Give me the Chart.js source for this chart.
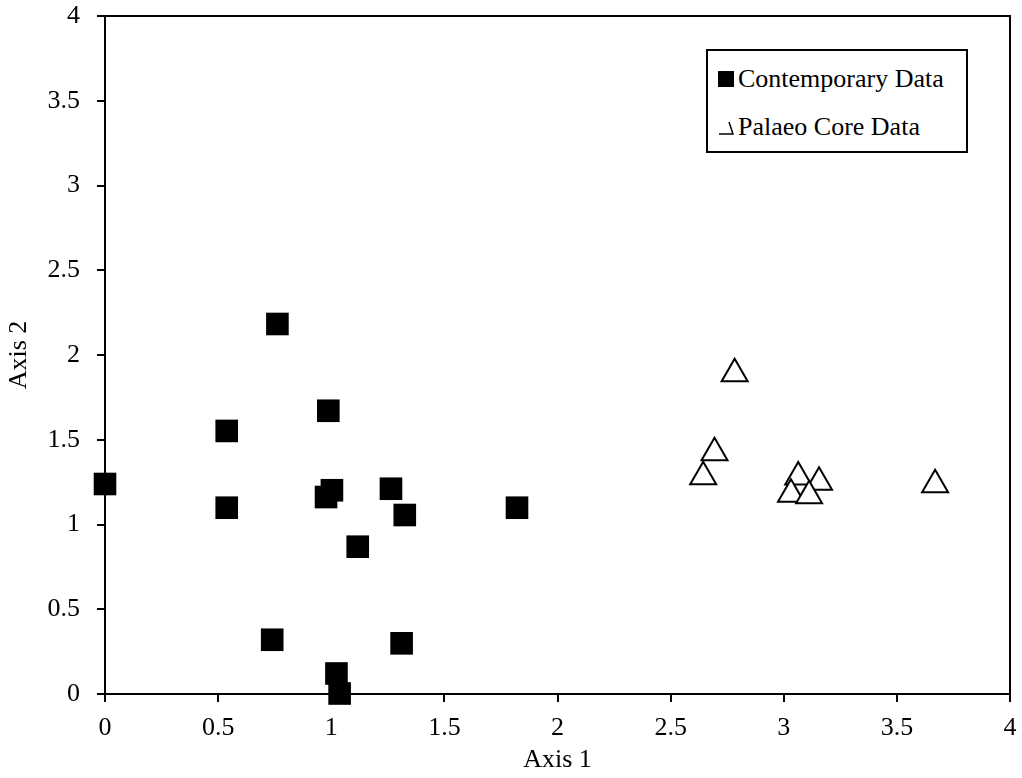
<!DOCTYPE html>
<html>
<head>
<meta charset="utf-8">
<script src="https://cdn.jsdelivr.net/npm/chart.js@4"></script>
<style>
    body { margin: 0; background: #fff; }
    #wrap { position: relative; width: 1022px; height: 778px; }
    #legend {
        position: absolute; left: 706px; top: 49px; width: 258px; height: 100px;
        border: 2px solid #000; background: #fff;
        font-family: "Liberation Serif", serif; font-size: 26px; color: #000;
    }
    .row { position: absolute; left: 0; height: 30px; line-height: 30px; white-space: nowrap; }
    .mark { position: absolute; top: 7px; width: 16px; height: 16px; }
    .label { position: absolute; left: 30px; top: 0; }
</style>
</head>
<body>
<div id="wrap">
    <canvas id="chart" width="1022" height="778"></canvas>
    <div id="legend">
        <div class="row" style="top: 13px;">
            <div class="mark" style="left: 10px; background: #000;"></div>
            <span class="label">Contemporary Data</span>
        </div>
        <div class="row" style="top: 61px;">
            <svg class="mark" style="left: 10px;" width="16" height="16" viewBox="0 0 16 16">
                <polyline points="1,15 15,15 11,3" fill="none" stroke="#000" stroke-width="1.5"/>
            </svg>
            <span class="label">Palaeo Core Data</span>
        </div>
    </div>
</div>
<script>
// Contemporary data (squares)
const contempX = [0.762, 0.987, 0.538, 0.0, 0.538, 1.003, 0.977, 1.264, 1.325, 1.117, 1.821, 0.739, 1.311, 1.023, 1.037];
const contempY = [2.183, 1.671, 1.552, 1.239, 1.099, 1.202, 1.162, 1.211, 1.056, 0.869, 1.099, 0.320, 0.299, 0.121, 0.003];

// Palaeo core data (triangles)
const palaeoX = [2.783, 2.694, 2.644, 3.064, 3.156, 3.032, 3.112, 3.669];
const palaeoY = [1.890, 1.424, 1.281, 1.280, 1.249, 1.178, 1.170, 1.234];

const axisMin = 0;
const axisMax = 4;
const axisStep = 0.5;

function toPoints(xs, ys) {
    return xs.map((x, i) => ({ x: x, y: ys[i] }));
}

const font = { family: '"Liberation Serif", serif', size: 26 };

// box round the plot area (top and right sides)
const frame = {
    id: 'frame',
    beforeDatasetsDraw(chart) {
        const a = chart.chartArea;
        const ctx = chart.ctx;
        ctx.save();
        ctx.strokeStyle = '#000';
        ctx.lineWidth = 2;
        ctx.strokeRect(a.left, a.top, a.right - a.left, a.bottom - a.top);
        ctx.restore();
    }
};

new Chart(document.getElementById('chart'), {
    type: 'scatter',
    data: {
        datasets: [
            {
                label: 'Contemporary Data',
                data: toPoints(contempX, contempY),
                pointStyle: 'rect',
                pointRadius: 16,
                pointHoverRadius: 16,
                backgroundColor: '#000',
                borderColor: '#000',
                borderWidth: 0,
                clip: false
            },
            {
                label: 'Palaeo Core Data',
                data: toPoints(palaeoX, palaeoY),
                pointStyle: 'triangle',
                pointRadius: 15,
                pointHoverRadius: 15,
                backgroundColor: '#fff',
                borderColor: '#000',
                borderWidth: 2,
                clip: false
            }
        ]
    },
    options: {
        responsive: false,
        animation: false,
        layout: { autoPadding: false, padding: { top: 16, right: 12, left: 0, bottom: 0 } },
        plugins: {
            legend: { display: false },
            tooltip: { enabled: false }
        },
        scales: {
            x: {
                type: 'linear',
                min: axisMin,
                max: axisMax,
                afterFit(scale) {
                    scale.height = 84;
                    scale.paddingLeft = 0;
                    scale.paddingRight = 0;
                },
                ticks: {
                    stepSize: axisStep, color: '#000', font: font, padding: 11, maxRotation: 0,
                    callback: v => String(v)
                },
                grid: { drawOnChartArea: false, tickLength: 8, color: '#000', lineWidth: 2 },
                border: { display: true, color: '#000', width: 2 },
                title: { display: true, text: 'Axis 1', color: '#000', font: font, padding: { top: 0, bottom: 2 } }
            },
            y: {
                type: 'linear',
                min: axisMin,
                max: axisMax,
                afterFit(scale) {
                    scale.width = 105;
                    scale.paddingTop = 0;
                    scale.paddingBottom = 0;
                },
                ticks: {
                    stepSize: axisStep, color: '#000', font: font, padding: 17,
                    callback: v => String(v)
                },
                grid: { drawOnChartArea: false, tickLength: 8, color: '#000', lineWidth: 2 },
                border: { display: true, color: '#000', width: 2 },
                title: { display: true, text: 'Axis 2', color: '#000', font: font, padding: { top: 4, bottom: 0 } }
            }
        }
    },
    plugins: [frame]
});
</script>
</body>
</html>
